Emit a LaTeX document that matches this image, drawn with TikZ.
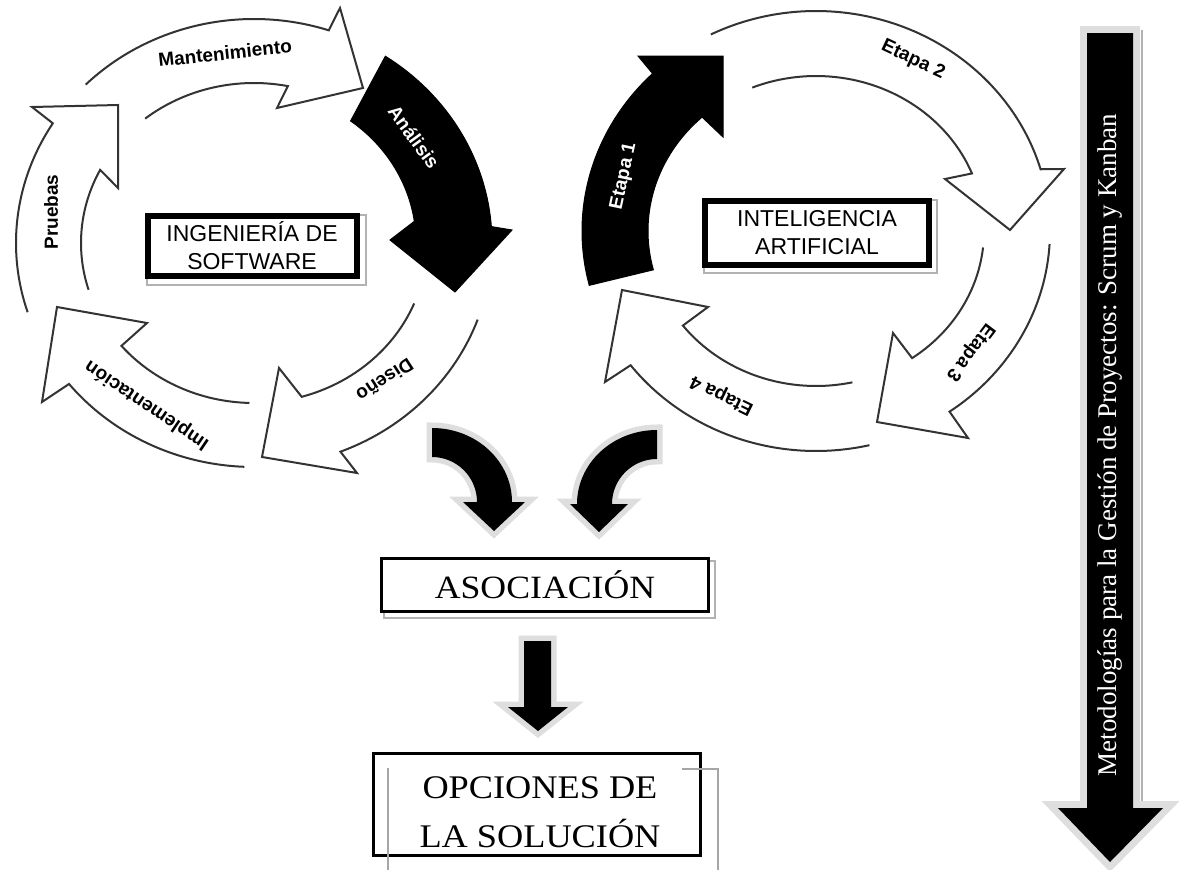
\documentclass[tikz,border=0pt]{standalone}
\usepackage{fontspec}
\setmainfont{Liberation Serif}
\newfontfamily\arial{Liberation Sans}
\newfontfamily\timeswide[FakeStretch=1.1]{Liberation Serif}
\begin{document}
\begin{tikzpicture}[x=1pt, y=1pt, yscale=-1,
    seg/.style={fill=white, draw=black!80, line width=2pt},
    darkseg/.style={fill=black, draw=black, line width=1pt},
    steplabel/.style={font=\arial\bfseries\fontsize{19}{23}\selectfont, inner sep=0pt},
    darklabel/.style={steplabel, text=white},
    areabox/.style={draw, fill=white, line width=6pt, align=center, inner sep=0pt, font=\arial\fontsize{23}{28}\selectfont},
    resultbox/.style={draw, fill=white, line width=3pt, minimum width=327pt, inner sep=0pt},
    resulttext/.style={align=center, inner sep=0pt, font=\timeswide\fontsize{33}{49}\selectfont},
    shade/.style={draw=black!30, line width=2pt},
    halo/.style={preaction={draw=black!13, line width=#1, line join=miter}},
    halo/.default=11pt]
    \useasboundingbox (0,0) rectangle (1179,870) ;

    \begin{scope}[shift={(254,243)}]
        \draw [seg] (225:238 and 224) arc [start angle=225, end angle=288.3, x radius=238, y radius=224] -- (86,-235) -- (109,-155) -- (23,-135) -- (281.3:173 and 160) arc [start angle=281.3, end angle=231, x radius=173, y radius=160] ;
        \draw [darkseg] (303.5:238 and 224) arc [start angle=303.5, end angle=355.8, x radius=238, y radius=224] -- (258,-13) -- (201,49) -- (136,-3) -- (-8.2:162 and 152) arc [start angle=-8.2, end angle=-53.4, x radius=162, y radius=152] -- cycle ;
        \draw [seg] (20:238 and 224) arc [start angle=20, end angle=68.7, x radius=238, y radius=224] -- (103,230) -- (8,214) -- (25,125) -- (74:173 and 160) arc [start angle=74, end angle=22.2, x radius=173, y radius=160] ;
        \draw [seg] (92.3:238 and 224) arc [start angle=92.3, end angle=141, x radius=238, y radius=224] -- (-212,159) -- (-197,64) -- (-107,80) -- (140:173 and 160) arc [start angle=140, end angle=91.5, x radius=173, y radius=160] ;
        \draw [seg] (162:238 and 224) arc [start angle=162, end angle=212.3, x radius=238, y radius=224] -- (-222,-136) -- (-136,-138) -- (-136,-55) -- (207.2:173 and 160) arc [start angle=207.2, end angle=163, x radius=173, y radius=160] ;

        \node [steplabel, rotate=6] (mant) at (-29,-190) {Mantenimiento} ;
        \node [darklabel, rotate=-54] (anal) at (160,-106) {Análisis} ;
        \node [steplabel, rotate=213] (dise) at (131,137) {Diseño} ;
        \node [steplabel, rotate=146] (impl) at (-107,162) {Implementación} ;
        \node [steplabel, rotate=90] (prue) at (-203,-31) {Pruebas} ;
    \end{scope}

    \begin{scope}[shift={(816,231)}]
        \draw [darkseg] (165.7:234 and 220) arc [start angle=165.7, end angle=225.7, x radius=234, y radius=220] -- (-178,-175) -- (-93,-175) -- (-93,-94) -- (227.3:168 and 155) arc [start angle=227.3, end angle=165.5, x radius=168, y radius=155] -- cycle ;
        \draw [seg] (243.3:234 and 220) arc [start angle=243.3, end angle=343.7, x radius=234, y radius=220] -- (248,-62) -- (194,-1) -- (129,-52) -- (338.2:168 and 155) arc [start angle=338.2, end angle=247.7, x radius=168, y radius=155] ;
        \draw [seg] (3.4:234 and 220) arc [start angle=3.4, end angle=55.2, x radius=234, y radius=220] -- (152,207) -- (61,191) -- (77,102) -- (55.1:168 and 155) arc [start angle=55.1, end angle=6.1, x radius=168, y radius=155] ;
        \draw [seg] (76.8:234 and 220) arc [start angle=76.8, end angle=142.4, x radius=234, y radius=220] -- (-211,151) -- (-194,59) -- (-108,76) -- (142.4:168 and 155) arc [start angle=142.4, end angle=77.5, x radius=168, y radius=155] ;

        \node [darklabel, rotate=78] (et1) at (-192,-55) {Etapa 1} ;
        \node [steplabel, rotate=-25] (et2) at (97,-171) {Etapa 2} ;
        \node [steplabel, rotate=233] (et3) at (154,121) {Etapa 3} ;
        \node [steplabel, rotate=154] (et4) at (-94,164) {Etapa 4} ;
    \end{scope}

    \draw [shade] (147,215) rectangle (366,285) ;
    \node [areabox, minimum width=209pt, minimum height=60pt] (isw) at (252,246) {INGENIERÍA DE\\SOFTWARE} ;
    \draw [shade] (704,200) rectangle (937,273) ;
    \node [areabox, minimum width=224pt, minimum height=64pt] (ia) at (817,233) {INTELIGENCIA\\ARTIFICIAL} ;

    \fill [black, halo] (432,428) arc [start angle=270, end angle=360, x radius=80, y radius=74] -- (525,502) -- (494,531) -- (463,502) -- (477,502) arc [start angle=0, end angle=-90, x radius=45, y radius=45] -- cycle ;
    \fill [black, halo] (657,430) arc [start angle=270, end angle=180, x radius=80, y radius=74] -- (570,504) -- (599,532) -- (628,504) -- (612,504) arc [start angle=180, end angle=270, x radius=45, y radius=45] -- cycle ;

    \draw [shade] (384,561) rectangle (715,618) ;
    \node [resultbox, minimum height=53pt, font=\timeswide\fontsize{32.5}{40}\selectfont] (asoc) at (545,585) {ASOCIACIÓN} ;

    \fill [black, halo] (524,641) -- (551,641) -- (551,707) -- (568,707) -- (538,731) -- (508,707) -- (524,707) -- cycle ;

    \node [resultbox, minimum height=102pt] (opc) at (537,804.5) {} ;
    \node [resulttext] (opctxt) at (540,812) {OPCIONES DE\\LA SOLUCIÓN} ;
    \draw [black!35, line width=1.5pt] (388,870) -- (388,768) ;
    \draw [black!35, line width=1.5pt] (682,769) -- (718,769) -- (718,870) ;

    \draw [black!30, line width=2pt] (1142,30) -- (1142,806) ;
    \fill [black, halo=14pt] (1087,33) -- (1133,33) -- (1133,808) -- (1163,808) -- (1110,862) -- (1058,808) -- (1087,808) -- cycle ;
    \node [rotate=90, text=white, inner sep=0pt, font=\fontsize{27}{30}\selectfont] (metod) at (1110,445) {Metodologías para la Gestión de Proyectos: Scrum y Kanban} ;
\end{tikzpicture}
\end{document}
